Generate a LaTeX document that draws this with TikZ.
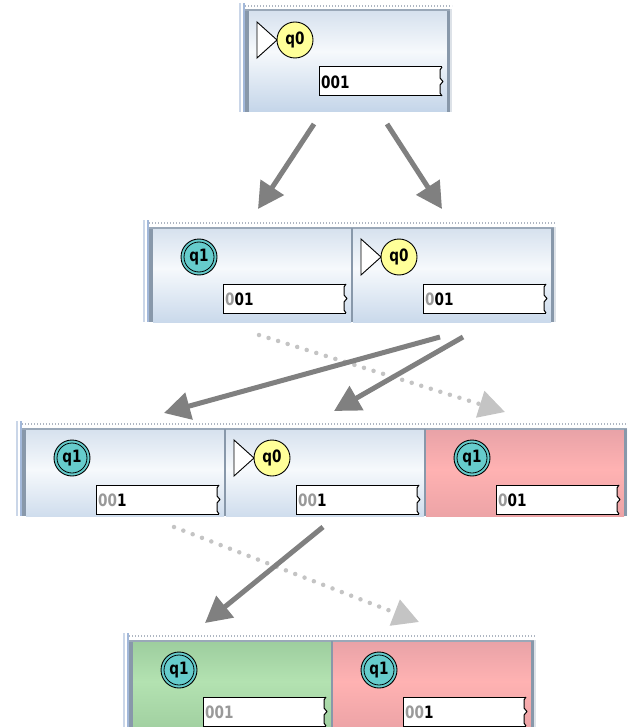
\documentclass[tikz,border=0pt]{standalone}
\usepackage{fontspec}
\setmainfont{DejaVu Sans}
\newfontfamily\labelfont[FakeStretch=0.8]{DejaVu Sans}
\usetikzlibrary{arrows.meta}

\definecolor{arrowgray}{HTML}{808080}
\definecolor{dotgray}{HTML}{C4C4C4}
\definecolor{consumed}{HTML}{999999}
\definecolor{qyellow}{HTML}{FFFF99}
\definecolor{qteal}{HTML}{66CCCC}
\definecolor{framegray}{HTML}{8898AA}
\definecolor{frametop}{HTML}{9AA8B8}
\definecolor{stripblue}{HTML}{A2B8DA}
\definecolor{stripouter}{HTML}{CAD6E8}
\definecolor{rightlight}{HTML}{DDE2E8}
\definecolor{dotline}{HTML}{AEB6C2}
% cell face colours: top, light band, bottom
\definecolor{bt}{HTML}{D6E1EE}
\definecolor{bw}{HTML}{F6F9FC}
\definecolor{bb}{HTML}{C4D5E9}
\definecolor{rt}{HTML}{E8A2A7}
\definecolor{rw}{HTML}{FFB2B2}
\definecolor{rb}{HTML}{E79FA3}
\definecolor{gt}{HTML}{9DCD9E}
\definecolor{gw}{HTML}{B3E2B1}
\definecolor{gb}{HTML}{9CCB9C}

\pgfdeclareverticalshading{blueface}{100bp}{color(0bp)=(bb); color(25bp)=(bb); color(55bp)=(bw); color(75bp)=(bt); color(100bp)=(bt)}
\pgfdeclareverticalshading{redface}{100bp}{color(0bp)=(rb); color(25bp)=(rb); color(55bp)=(rw); color(75bp)=(rt); color(100bp)=(rt)}
\pgfdeclareverticalshading{greenface}{100bp}{color(0bp)=(gb); color(25bp)=(gb); color(55bp)=(gw); color(75bp)=(gt); color(100bp)=(gt)}

\tikzset{
  cellbox/.style={anchor=north west, minimum width=198pt, minimum height=101pt,
    inner sep=0pt, outer sep=0pt, draw=none},
  qzerostyle/.style={circle, draw=black, line width=0.9pt, fill=qyellow,
    minimum size=36pt, inner sep=0pt, font=\fontsize{17}{17}\labelfont\bfseries},
  qonestyle/.style={circle, draw=black, line width=0.9pt, fill=qteal,
    minimum size=36pt, inner sep=0pt, font=\fontsize{17}{17}\labelfont\bfseries,
    path picture={\draw[line width=0.8pt] (path picture bounding box.center) circle (15pt);}},
  tapeline/.style={draw=black, line width=1pt},
  tapetext/.style={anchor=base west, inner sep=0pt, font=\fontsize{17}{17}\labelfont\bfseries},
  trans/.style={draw=arrowgray, line width=5pt,
    -{Triangle[length=26pt, width=27pt, fill=arrowgray]}},
  nontrans/.style={draw=dotgray, line width=4.5pt, line cap=round,
    dash pattern=on 0pt off 10pt,
    -{Triangle[length=26pt, width=27pt, fill=dotgray]}},
}

% frame of one row of cells: #1 left x, #2 top y, #3 bottom y, #4 right x
\newcommand\rowframe[4]{%
  \fill[stripouter] (#1-10,#2-8) rectangle (#1-8,#3);
  \fill[stripblue] (#1-6.5,#2-8) rectangle (#1-4.5,#3);
  \fill[framegray] (#1-4,#2-1.5) rectangle (#1,#3);
  \draw[dotline, line width=1.2pt, dash pattern=on 1.2pt off 1.8pt] (#1-4,#2-5) -- (#4+5,#2-5);
  \fill[frametop] (#1-4,#2-1.5) rectangle (#4+3,#2+0.5);
  \fill[framegray] (#4,#2) rectangle (#4+3,#3);
  \fill[rightlight] (#4+3,#2-1.5) rectangle (#4+5,#3);
}
% divider between two neighbouring cells
\newcommand\divider[3]{\fill[framegray] (#1,#2) rectangle (#1+2,#3);}

% start state q0 with its triangle
\newcommand\qzero[1]{%
  \begin{scope}[shift={(#1.north west)}]
    \filldraw[fill=white, draw=black, line width=0.9pt] (8,11) -- (28,29) -- (8,47) -- cycle;
    \node[qzerostyle] (#1-q) at (46,29) {q0};
  \end{scope}}
% final state q1
\newcommand\qone[1]{%
  \begin{scope}[shift={(#1.north west)}]
    \node[qonestyle] (#1-q) at (46,29) {q1};
  \end{scope}}
% input tape with torn right edge
\newcommand\tape[2]{%
  \begin{scope}[shift={(#1.north west)}]
    \fill[white] (70,56) -- (193,56) -- (191,59) -- (191,67) -- (194,70.5) -- (191,74)
      -- (191,82) -- (193,85) -- (70,85) -- cycle;
    \draw[tapeline] (193,56) -- (70,56) -- (70,85) -- (193,85);
    \draw[tapeline, line join=round] (193,56) -- (191,59) -- (191,67) -- (194,70.5)
      -- (191,74) -- (191,82) -- (193,85);
    \node[tapetext] (#1-t) at (72,77.5) {#2};
  \end{scope}}
\newcommand\gr[1]{{\color{consumed}#1}}

\begin{document}
\begin{tikzpicture}[x=1pt, y=-1pt]
\useasboundingbox[fill=white] (0,0) rectangle (627,727);

% ---- row 0 ----
\begin{scope}
  \clip (239,0) rectangle (455,112);
  \node[cellbox, shading=blueface] (r0c1) at (249,11) {};
  \rowframe{249}{11}{112}{447}
\end{scope}
\qzero{r0c1}\tape{r0c1}{001}

% ---- row 1 ----
\begin{scope}
  \clip (143,210) rectangle (559,322);
  \node[cellbox, shading=blueface] (r1c1) at (153,228) {};
  \node[cellbox, shading=blueface] (r1c2) at (353,228) {};
  \rowframe{153}{228}{322}{551}
  \divider{351}{228}{322}
\end{scope}
\qone{r1c1}\tape{r1c1}{\gr{0}01}
\qzero{r1c2}\tape{r1c2}{\gr{0}01}

% ---- row 2 ----
\begin{scope}
  \clip (16,410) rectangle (627,516);
  \node[cellbox, shading=blueface] (r2c1) at (26,429) {};
  \node[cellbox, shading=blueface] (r2c2) at (226,429) {};
  \node[cellbox, shading=redface] (r2c3) at (426,429) {};
  \rowframe{26}{429}{516}{624}
  \divider{224}{429}{516}
  \divider{424}{429}{516}
\end{scope}
\qone{r2c1}\tape{r2c1}{\gr{00}1}
\qzero{r2c2}\tape{r2c2}{\gr{00}1}
\qone{r2c3}\tape{r2c3}{\gr{0}01}

% ---- row 3 ----
\begin{scope}
  \clip (123,622) rectangle (540,727);
  \node[cellbox, shading=greenface] (r3c1) at (133,641) {};
  \node[cellbox, shading=redface] (r3c2) at (333,641) {};
  \rowframe{133}{641}{727}{531}
  \divider{331}{641}{727}
\end{scope}
\qone{r3c1}\tape{r3c1}{\gr{001}}
\qone{r3c2}\tape{r3c2}{\gr{00}1}

% ---- transitions ----
\coordinate (a1s) at (314,124); \coordinate (a1e) at (258,209);
\coordinate (a2s) at (387,124); \coordinate (a2e) at (442,209);
\coordinate (b1s) at (440,337); \coordinate (b1e) at (164,413);
\coordinate (b2s) at (463,337); \coordinate (b2e) at (334,411);
\coordinate (d1s) at (259,335); \coordinate (d1e) at (505,412);
\coordinate (c1s) at (323,527); \coordinate (c1e) at (205,623);
\coordinate (d2s) at (174,527); \coordinate (d2e) at (419,622);

\draw[nontrans] (d1s) -- (d1e);
\draw[nontrans] (d2s) -- (d2e);
\draw[trans] (a1s) -- (a1e);
\draw[trans] (a2s) -- (a2e);
\draw[trans] (b1s) -- (b1e);
\draw[trans] (b2s) -- (b2e);
\draw[trans] (c1s) -- (c1e);
\end{tikzpicture}
\end{document}
